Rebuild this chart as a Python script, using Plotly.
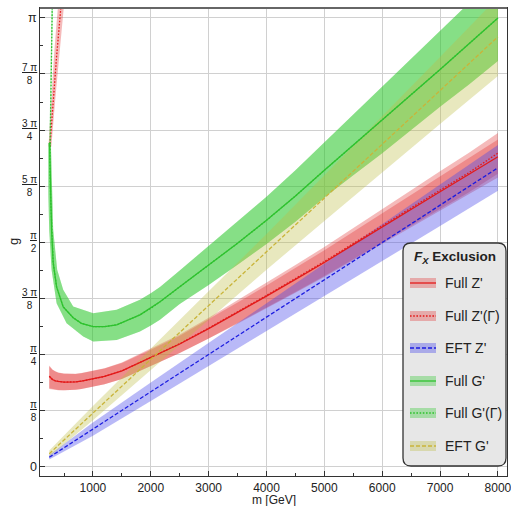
import math
import plotly.graph_objects as go

PI = math.pi

# ---------------- data ----------------
# Full Z' (red, solid) -- lower branch
m_fz = [245, 300, 350, 400, 500, 600, 700, 800, 1000, 1200, 1500, 2000, 2500, 3000,
        3500, 4000, 4500, 5000, 5500, 6000, 6500, 7000, 7500, 8000]
g_fz = [0.635, 0.612, 0.603, 0.598, 0.594, 0.593, 0.595, 0.600, 0.614, 0.633, 0.672, 0.765,
        0.860, 0.968, 1.080, 1.195, 1.312, 1.430, 1.555, 1.680, 1.800, 1.925, 2.047, 2.170]
lo_fz = [0.545, 0.544, 0.539, 0.537, 0.536, 0.537, 0.540, 0.545, 0.559, 0.578, 0.616, 0.707,
         0.797, 0.898, 1.002, 1.109, 1.218, 1.328, 1.445, 1.562, 1.675, 1.793, 1.909, 2.025]
hi_fz = [0.705, 0.680, 0.667, 0.659, 0.652, 0.649, 0.650, 0.655, 0.669, 0.688, 0.728, 0.820,
         0.918, 1.032, 1.150, 1.270, 1.392, 1.515, 1.645, 1.775, 1.900, 2.030, 2.160, 2.290]

# Full Z'(Gamma) (red, dotted) -- lower branch on the same masses
g_fzg = [0.635, 0.612, 0.603, 0.598, 0.594, 0.593, 0.595, 0.600, 0.614, 0.633, 0.672, 0.766,
         0.862, 0.971, 1.084, 1.200, 1.318, 1.437, 1.563, 1.689, 1.810, 1.936, 2.059, 2.195]
lo_fzg = [0.550, 0.548, 0.542, 0.539, 0.537, 0.537, 0.540, 0.545, 0.559, 0.578, 0.616, 0.706,
          0.797, 0.899, 1.005, 1.114, 1.224, 1.335, 1.453, 1.571, 1.685, 1.804, 1.921, 2.050]
hi_fzg = [0.710, 0.682, 0.669, 0.661, 0.653, 0.650, 0.652, 0.657, 0.671, 0.690, 0.730, 0.826,
          0.926, 1.043, 1.164, 1.287, 1.412, 1.539, 1.673, 1.807, 1.935, 2.068, 2.197, 2.335]
# Full Z'(Gamma) upper branch (steep, near low mass)
m_zg_up = [256, 282, 313, 343, 372, 412, 446, 462]
g_zg_up = [2.24, 2.394, 2.569, 2.723, 2.872, 3.059, 3.213, 3.29]
m_zg_up_l = [231, 252, 278, 303, 327, 362, 394, 410]
m_zg_up_r = [281, 312, 348, 383, 417, 462, 498, 514]

# EFT Z' (blue, dashed)
m_eft = [245, 1000, 2000, 3000, 4000, 5000, 6000, 7000, 8000]
g_ez = [0.068, 0.265, 0.526, 0.787, 1.048, 1.309, 1.570, 1.831, 2.092]
lo_ez = [0.053, 0.218, 0.461, 0.705, 0.953, 1.199, 1.440, 1.686, 1.932]
hi_ez = [0.083, 0.312, 0.591, 0.869, 1.143, 1.419, 1.700, 1.976, 2.252]

# Full G' (green, solid)
m_fg = [250, 256, 268, 285, 313, 372, 486, 659, 800, 1005, 1200, 1410, 1813, 2000, 2159,
        2500, 3000, 3500, 4000, 4500, 5000, 5500, 6000, 6500, 7000, 7500, 8000]
g_fg = [2.27, 2.13, 1.89, 1.66, 1.43, 1.26, 1.12, 1.044, 1.005, 0.982, 0.982, 0.994, 1.064,
        1.11, 1.155, 1.26, 1.41, 1.565, 1.725, 1.895, 2.075, 2.25, 2.425, 2.60, 2.78, 2.96, 3.14]
# band edges (inner = inside the U, outer = outside the U)
m_fg_in = [273, 291, 313, 382, 486, 659, 1005, 1410, 1813, 2000, 2159, 2500, 3000, 3500,
           4000, 4500, 5000, 5500, 6000, 6500, 7000, 7500, 8000]
g_fg_in = [2.266, 1.892, 1.659, 1.379, 1.239, 1.122, 1.076, 1.099, 1.169, 1.215, 1.258, 1.375,
           1.545, 1.715, 1.89, 2.075, 2.27, 2.465, 2.655, 2.85, 3.045, 3.24, 3.44]
m_fg_out = [227, 230, 244, 285, 372, 545, 832, 1005, 1410, 1813, 2000, 2159, 2500, 3000,
            3500, 4000, 4500, 5000, 5500, 6000, 6500, 7000, 7500, 8000]
g_fg_out = [2.266, 1.892, 1.659, 1.379, 1.146, 1.006, 0.912, 0.877, 0.889, 0.947, 0.99,
            1.03, 1.14, 1.272, 1.415, 1.56, 1.715, 1.885, 2.04, 2.195, 2.355, 2.52, 2.675, 2.84]

# Full G'(Gamma) upper branch (nearly vertical)
m_gg_up = [300, 296, 282, 268, 256]
g_gg_up = [3.3, 3.21, 2.95, 2.6, 2.27]
m_gg_up_l = [288, 284, 271, 258, 247]
m_gg_up_r = [312, 308, 293, 278, 265]

# EFT G' (olive, dashed)
g_eg = [0.093, 0.377, 0.753, 1.129, 1.505, 1.881, 2.257, 2.633, 3.009]
lo_eg = [0.071, 0.327, 0.678, 1.029, 1.380, 1.721, 2.062, 2.398, 2.734]
hi_eg = [0.115, 0.427, 0.828, 1.229, 1.630, 2.041, 2.452, 2.868, 3.284]

# axis ticks
x_major = [1000, 2000, 3000, 4000, 5000, 6000, 7000, 8000]
x_minor = [500, 1500, 2500, 3500, 4500, 5500, 6500, 7500]
y_major_k = [0, 1, 2, 3, 4, 5, 6, 7, 8]
y_labels = ["0", "<u>π</u><br>8", "<u>π</u><br>4", "<u>3 π</u><br>8", "<u>π</u><br>2",
            "<u>5 π</u><br>8", "<u>3 π</u><br>4", "<u>7 π</u><br>8", "π"]

legend_names = ["Full Z'", "Full Z'(Γ)", "EFT Z'", "Full G'", "Full G'(Γ)", "EFT G'"]

# ---------------- styles ----------------
FONT = "Liberation Sans, Arial, sans-serif"
RED_B = "rgba(225,45,45,0.33)"
RED_L = "#e31a1a"
BLUE_B = "rgba(70,70,235,0.38)"
BLUE_L = "#1c1ce0"
GREEN_B = "rgba(45,200,45,0.35)"
GREEN_L = "#2ec22e"
OLIVE_B = "rgba(190,190,70,0.35)"
OLIVE_L = "#c9b43a"
DASH = "4px,2px"
DOT = "1.6px,1.6px"

fig = go.Figure()


def band(xa, ya, xb, yb, color):
    fig.add_trace(go.Scatter(
        x=list(xa) + list(xb)[::-1], y=list(ya) + list(yb)[::-1],
        mode="lines", fill="toself", fillcolor=color, line=dict(width=0),
        hoverinfo="skip", showlegend=False))


def line(x, y, color, dash):
    fig.add_trace(go.Scatter(x=x, y=y, mode="lines", connectgaps=False,
                             line=dict(color=color, width=1.3, dash=dash),
                             hoverinfo="skip", showlegend=False))


# bands
band(m_fz, hi_fz, m_fz, lo_fz, RED_B)
band(m_fz, hi_fzg, m_fz, lo_fzg, RED_B)
band(m_zg_up_l, g_zg_up, m_zg_up_r, g_zg_up, RED_B)
band(m_eft, hi_ez, m_eft, lo_ez, BLUE_B)
band(m_fg_in, g_fg_in, m_fg_out, g_fg_out, GREEN_B)
band(m_fg_in, g_fg_in, m_fg_out, g_fg_out, GREEN_B)
band(m_gg_up_l, g_gg_up, m_gg_up_r, g_gg_up, GREEN_B)
band(m_eft, hi_eg, m_eft, lo_eg, OLIVE_B)

# lines
line(m_fz, g_fz, RED_L, "solid")
line(m_fz + [None] + m_zg_up, g_fzg + [None] + g_zg_up, RED_L, DOT)
line(m_eft, g_ez, BLUE_L, DASH)
line(m_gg_up + m_fg, g_gg_up + g_fg, GREEN_L, DOT)
line(m_fg, g_fg, GREEN_L, "solid")
line(m_eft, g_eg, OLIVE_L, DASH)

# ---------------- layout ----------------
L, R, T, B = 40, 507, 8, 476
W, H = R - L, B - T


def P(px, py):
    return (px - L) / W, (B - py) / H


y_vals = [k * PI / 8 for k in y_major_k]
y_minor = [k * PI / 16 for k in range(1, 16, 2)]

fig.update_layout(
    width=511, height=506,
    margin=dict(l=L, r=511 - R, t=T, b=506 - B, autoexpand=False),
    plot_bgcolor="white", paper_bgcolor="white",
    font=dict(family=FONT, size=12, color="#222"),
    showlegend=False,
    xaxis=dict(range=[85, 8157], tickvals=x_major, ticktext=[str(v) for v in x_major],
               ticks="inside", ticklen=5, tickcolor="#333", tickwidth=1,
               ticklabeloverflow="allow", automargin=False,
               showgrid=True, gridcolor="#d0d0d0", gridwidth=1.2,
               showline=True, linecolor="#333", linewidth=1.3, mirror=True,
               zeroline=False, tickfont=dict(size=12, color="#222"),
               minor=dict(tickvals=x_minor, ticks="inside", ticklen=3, tickcolor="#333",
                          showgrid=False)),
    yaxis=dict(range=[-0.063, 3.21], tickvals=y_vals, showticklabels=False,
               ticks="inside", ticklen=5, tickcolor="#333", tickwidth=1, automargin=False,
               showgrid=True, gridcolor="#d0d0d0", gridwidth=1,
               showline=True, linecolor="#333", linewidth=1.3, mirror=True,
               zeroline=False,
               minor=dict(tickvals=y_minor, ticks="inside", ticklen=3, tickcolor="#333",
                          showgrid=False)),
)

ann = []
# y tick labels (stacked fractions)
for k, lab, yv in zip(y_major_k, y_labels, y_vals):
    single = "<br>" not in lab
    ann.append(dict(xref="paper", yref="y", x=P(39, 0)[0], y=yv, text=lab,
                    xanchor="right", yanchor="middle", align="center", showarrow=False,
                    font=dict(size=12.5 if single else 10, color="#222", family=FONT)))
# axis titles
ann.append(dict(xref="paper", yref="paper", x=P(13, 0)[0], y=0.5, text="g", textangle=-90,
                showarrow=False, xanchor="center", yanchor="middle",
                font=dict(size=13, color="#222", family=FONT)))
ann.append(dict(xref="paper", yref="paper", x=0.5, y=P(0, 500)[1], text="m [GeV]",
                showarrow=False, xanchor="center", yanchor="middle",
                font=dict(size=12, color="#222", family=FONT)))

# ---------------- custom legend ----------------
shapes = []
# darker, slightly heavier top frame as in the reference
shapes.append(dict(type="line", xref="paper", yref="paper", x0=0, x1=1, y0=1, y1=1,
                   line=dict(color="#666", width=2.2), layer="above"))
x0, x1, y0, y1, r = 403, 506, 243, 466, 8
pts = [("M", x0 + r, y0), ("L", x1 - r, y0), ("Q", x1, y0, x1, y0 + r), ("L", x1, y1 - r),
       ("Q", x1, y1, x1 - r, y1), ("L", x0 + r, y1), ("Q", x0, y1, x0, y1 - r),
       ("L", x0, y0 + r), ("Q", x0, y0, x0 + r, y0)]
path = ""
for p in pts:
    cmd = p[0]
    coords = p[1:]
    seg = []
    for i in range(0, len(coords), 2):
        xx, yy = P(coords[i], coords[i + 1])
        seg.append(f"{xx:.5f},{yy:.5f}")
    path += cmd + " " + " ".join(seg) + " "
path += "Z"
shapes.append(dict(type="path", xref="paper", yref="paper", path=path,
                   fillcolor="#e7e7e7", line=dict(color="#333", width=1.3), layer="above"))

ann.append(dict(xref="paper", yref="paper", x=P(454.5, 0)[0], y=P(0, 257)[1],
                text="<b><i>F</i><sub><i>X</i></sub> Exclusion</b>", showarrow=False,
                xanchor="center", yanchor="middle",
                font=dict(size=13.5, color="#222", family=FONT)))

row_py = [283, 316, 348, 381, 413, 446]
sw_band = [RED_B, RED_B, BLUE_B, GREEN_B, GREEN_B, OLIVE_B]
sw_line = [RED_L, RED_L, BLUE_L, GREEN_L, GREEN_L, OLIVE_L]
sw_dash = ["solid", DOT, DASH, "solid", DOT, DASH]
for name, py, bc, lc, ds in zip(legend_names, row_py, sw_band, sw_line, sw_dash):
    ax0, ay0 = P(410, py - 5)
    ax1, ay1 = P(436, py + 5)
    shapes.append(dict(type="rect", xref="paper", yref="paper", x0=ax0, x1=ax1, y0=ay1, y1=ay0,
                       fillcolor=bc, line=dict(width=0), layer="above"))
    lx0, ly = P(410, py)
    lx1, _ = P(436, py)
    shapes.append(dict(type="line", xref="paper", yref="paper", x0=lx0, x1=lx1, y0=ly, y1=ly,
                       line=dict(color=lc, width=1.3, dash=ds), layer="above"))
    ann.append(dict(xref="paper", yref="paper", x=P(443, 0)[0], y=ly, text=name,
                    showarrow=False, xanchor="left", yanchor="middle",
                    font=dict(size=14, color="#222", family=FONT)))

fig.update_layout(annotations=ann, shapes=shapes)
fig.write_html("out.html")
